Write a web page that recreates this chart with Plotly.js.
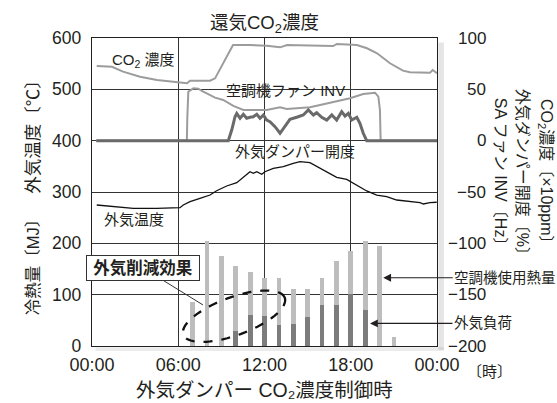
<!DOCTYPE html>
<html>
<head>
<meta charset="utf-8">
<script src="https://cdn.plot.ly/plotly-3.0.1.min.js"></script>
<style>html,body{margin:0;padding:0;background:#fff;}</style>
</head>
<body>
<div id="chart" style="width:557px;height:403px;"></div>
<script>
// ---- data (hours of day, values) ----
const xTickVals = [0, 6, 12, 18, 24];
const xTickText = ['00:00', '06:00', '12:00', '18:00', '00:00'];
const rightTickVals = [100, 50, 0, -50, -100, -150, -200];
const rightTickText = ['100', '50', '0', '−50', '−100', '−150', '−200'];

// CO2 concentration (x10 ppm, right axis)
const co2Hours = [0.33, 1.39, 2.16, 3.34, 4.52, 5.91, 6.61, 6.82, 8.21, 8.56, 9.11, 9.6, 9.81, 10.99, 12.17, 13.08, 13.57, 16.77, 17.04, 18.43, 19.13, 19.83, 20.73, 21.63, 22.12, 23.51, 23.7, 24.0];
const co2Values = [72.7, 72.0, 67.2, 62.3, 59.1, 56.9, 55.9, 58.4, 58.4, 60.7, 75.6, 88.3, 93.2, 93.2, 92.5, 90.9, 93.2, 92.2, 94.2, 93.2, 90.0, 85.1, 75.4, 68.2, 66.6, 66.2, 68.8, 65.6];

// SA fan INV (Hz, right axis)
const fanHours = [0.3, 6.6, 6.63, 6.7, 7.05, 7.39, 7.74, 8.21, 8.56, 9.13, 9.83, 10.53, 12.15, 13.08, 13.55, 15.17, 16.79, 17.95, 18.87, 19.69, 19.92, 20.03, 20.08, 24.0];
const fanValues = [0, 0, 22, 47.7, 51, 50.6, 47.7, 44.5, 41.9, 39.6, 33.8, 29.9, 29.9, 32.5, 30.8, 32.5, 38.0, 41.3, 45.5, 46.7, 42.8, 29.9, 0, 0];

// Outdoor-air damper opening (%, right axis)
const damperHours = [0.3, 9.48, 9.72, 9.95, 10.07, 10.30, 10.53, 10.76, 10.99, 11.22, 11.46, 11.69, 11.92, 12.15, 12.38, 12.73, 13.08, 13.43, 13.77, 14.24, 14.70, 15.05, 15.40, 15.63, 15.98, 16.33, 16.68, 17.02, 17.37, 17.60, 17.83, 18.07, 18.42, 18.64, 18.87, 19.11, 24.0];
const damperValues = [0, 0, 10.4, 23.3, 26.6, 21.8, 25.7, 21.8, 22.8, 23.3, 25.7, 21.8, 25.0, 20.1, 18.5, 13.6, 7.2, 13.6, 20.8, 22.8, 25.0, 29.9, 25.0, 27.2, 22.8, 20.1, 25.0, 20.1, 28.2, 24.0, 26.7, 20.1, 22.8, 16.9, 7.2, 0, 0];

// Outdoor temperature (left axis)
const tempHours = [0.33, 1.25, 2.87, 4.50, 6.12, 6.35, 6.82, 7.51, 8.21, 8.67, 9.37, 10.07, 10.53, 10.99, 11.22, 11.46, 11.81, 12.03, 12.61, 13.31, 14.00, 14.47, 15.16, 15.86, 16.56, 17.02, 17.72, 18.41, 19.11, 19.81, 20.50, 21.20, 22.12, 22.82, 23.05, 23.51, 23.98];
const tempValues = [274.7, 272.7, 268.2, 268.2, 269.4, 274.7, 281.1, 287.7, 294.1, 302.5, 311.7, 318.1, 328.6, 339.5, 336.4, 339.5, 334.5, 339.5, 346.2, 349.3, 355.9, 359.0, 357.1, 346.2, 336.4, 328.6, 324.7, 313.6, 302.0, 294.1, 290.8, 284.4, 281.1, 279.2, 276.6, 279.2, 280.0];

// Hourly cooling heat (MJ, left axis)
const barHours = [7, 8, 9, 10, 11, 12, 13, 14, 15, 16, 17, 18, 19, 20, 21];
const coolingHeat = [85, 205, 175, 156, 144, 132, 132, 112, 112, 132, 166, 185, 205, 195, 18];
const outdoorLoad = [null, null, null, 29, 60, 58, 41, 43, 57, 80, 80, 101, 70, null, null];

// ---- styling ----
const FONT = 'Liberation Sans, Arial, "Noto Sans CJK JP", sans-serif';
const TXT = '#231f20';
const plotW = 345, plotH = 308;
const pxPerHour = plotW / 24, pxPerUnit = plotH / 600;

function ellipsePath(ch, cv, a, b, deg) {
  const th = deg * Math.PI / 180;
  let d = '';
  for (let i = 0; i <= 72; i++) {
    const t = i / 72 * 2 * Math.PI;
    const px = a * Math.cos(t) * Math.cos(th) - b * Math.sin(t) * Math.sin(th);
    const py = a * Math.cos(t) * Math.sin(th) + b * Math.sin(t) * Math.cos(th);
    const xh = ch + px / pxPerHour, yv = cv + py / pxPerUnit;
    d += (i === 0 ? 'M' : 'L') + xh.toFixed(4) + ',' + yv.toFixed(3);
  }
  return d + 'Z';
}

const traces = [
  {type: 'bar', x: barHours, y: coolingHeat, width: 0.33, marker: {color: '#bdbdbd'}, name: '空調機使用熱量', hoverinfo: 'skip'},
  {type: 'bar', x: barHours, y: outdoorLoad, width: 0.33, marker: {color: '#7c7c7c'}, name: '外気負荷', hoverinfo: 'skip'},
  {type: 'scatter', mode: 'lines', x: tempHours, y: tempValues, line: {color: '#111', width: 1.3}, name: '外気温度'},
  {type: 'scatter', mode: 'lines', x: fanHours, y: fanValues, yaxis: 'y2', line: {color: '#9c9c9c', width: 2}, name: '空調機ファン INV'},
  {type: 'scatter', mode: 'lines', x: damperHours, y: damperValues, yaxis: 'y2', line: {color: '#6a6a6a', width: 3}, name: '外気ダンパー開度'},
  {type: 'scatter', mode: 'lines', x: co2Hours, y: co2Values, yaxis: 'y2', line: {color: '#9c9c9c', width: 2}, name: 'CO2 濃度'}
];

const ann = [];
function txt(o) { ann.push(Object.assign({showarrow: false, xanchor: 'center', yanchor: 'middle', font: {family: FONT, size: 15, color: TXT}}, o)); }

// in-plot labels
txt({text: 'CO<sub>2</sub> 濃度', xref: 'x', yref: 'y', x: 1.25, y: 557, xanchor: 'left'});
txt({text: '空調機ファン INV', xref: 'x', yref: 'y', x: 13.43, y: 498});
txt({text: '外気ダンパー開度', xref: 'x', yref: 'y', x: 14.12, y: 378});
txt({text: '外気温度', xref: 'x', yref: 'y', x: 2.92, y: 247});

// boxed callout
ann.push({text: '<b>外気削減効果</b>', xref: 'x', yref: 'y', x: 7.72, y: 80, ax: -60, ay: -37,
  showarrow: true, arrowhead: 0, arrowwidth: 1, arrowcolor: '#333',
  bordercolor: '#333', borderwidth: 1, borderpad: 1, bgcolor: '#fff', width: 110, height: 22,
  font: {family: FONT, size: 16.5, color: TXT}});

// arrows on right
ann.push({text: '空調機使用熱量', xref: 'x', yref: 'y', x: 20.26, y: 133, ax: 122, ay: 0,
  showarrow: true, arrowhead: 2, arrowsize: 1.3, arrowwidth: 1.2, arrowcolor: TXT, standoff: 0,
  font: {family: FONT, size: 14.5, color: TXT}});
ann.push({text: '外気負荷', xref: 'x', yref: 'y', x: 19.34, y: 44, ax: 113, ay: 0,
  showarrow: true, arrowhead: 2, arrowsize: 1.3, arrowwidth: 1.2, arrowcolor: TXT, standoff: 0,
  font: {family: FONT, size: 14.5, color: TXT}});

// axis titles
txt({text: '外気温度〔℃〕', xref: 'paper', yref: 'paper', x: -0.171, y: 0.692, textangle: -90, font: {family: FONT, size: 17.5, color: TXT}});
txt({text: '冷熱量〔MJ〕', xref: 'paper', yref: 'paper', x: -0.171, y: 0.269, textangle: -90, font: {family: FONT, size: 16.5, color: TXT}});
txt({text: 'CO<sub>2</sub>濃度〔×10ppm〕', xref: 'paper', yref: 'paper', x: 1.313, y: 0.552, textangle: 90, font: {family: FONT, size: 16, color: TXT}});
txt({text: '外気ダンパー開度〔%〕', xref: 'paper', yref: 'paper', x: 1.247, y: 0.552, textangle: 90, font: {family: FONT, size: 16, color: TXT}});
txt({text: 'SA ファン INV〔Hz〕', xref: 'paper', yref: 'paper', x: 1.183, y: 0.552, textangle: 90, font: {family: FONT, size: 16, color: TXT}});
txt({text: '外気ダンパー CO₂濃度制御時', xref: 'paper', yref: 'paper', x: 0.5, y: -0.142, font: {family: FONT, size: 19.5, color: TXT}});
txt({text: '〔時〕', xref: 'paper', yref: 'paper', x: 1.151, y: -0.083, font: {family: FONT, size: 15, color: TXT}});

// right axis tick labels (right aligned)
rightTickVals.forEach((v, i) => {
  txt({text: rightTickText[i], xref: 'paper', yref: 'y2', x: 1.148, y: v, xanchor: 'right', font: {family: FONT, size: 17, color: TXT}});
});

const layout = {
  width: 557, height: 403,
  margin: {l: 92, r: 120, t: 38, b: 57, pad: 0},
  paper_bgcolor: '#fff', plot_bgcolor: '#fff',
  showlegend: false, barmode: 'overlay', bargap: 0,
  font: {family: FONT, size: 17, color: TXT},
  title: {text: '還気CO<sub>2</sub>濃度', xref: 'paper', x: 0.5, xanchor: 'center', yref: 'container', y: 0.944, yanchor: 'middle', font: {family: FONT, size: 18.5, color: TXT}},
  xaxis: {range: [0, 24], tickvals: xTickVals, ticktext: xTickText, showgrid: true, gridcolor: '#333', gridwidth: 1,
    showline: true, linecolor: TXT, linewidth: 1.2, mirror: true, ticks: '', zeroline: false, fixedrange: true,
    ticklabelstandoff: 2, tickfont: {family: FONT, size: 18, color: TXT}},
  yaxis: {range: [0, 600], dtick: 100, tick0: 0, showgrid: true, gridcolor: '#333', gridwidth: 1,
    showline: true, linecolor: TXT, linewidth: 1.2, mirror: true, ticks: '', zeroline: false, ticklabelstandoff: 6,
    tickfont: {family: FONT, size: 17.5, color: TXT}},
  yaxis2: {range: [-200, 100], overlaying: 'y', side: 'right', showgrid: false, showticklabels: false, zeroline: false, showline: false, ticks: ''},
  shapes: [
    {type: 'path', xref: 'x', yref: 'y', path: ellipsePath(9.88, 58, 54, 19, 20), line: {color: '#111', width: 2.3, dash: 'dash'}, layer: 'above'},
    {type: 'rect', xref: 'paper', yref: 'paper', x0: 1.004, x1: 1.02, y0: -0.012, y1: 0.985, fillcolor: 'rgba(0,0,0,0.10)', line: {width: 0}},
    {type: 'rect', xref: 'paper', yref: 'paper', x0: 0.01, x1: 1.02, y0: -0.016, y1: -0.004, fillcolor: 'rgba(0,0,0,0.08)', line: {width: 0}}
  ],
  annotations: ann
};

Plotly.newPlot('chart', traces, layout, {displayModeBar: false, staticPlot: true});
</script>
</body>
</html>
